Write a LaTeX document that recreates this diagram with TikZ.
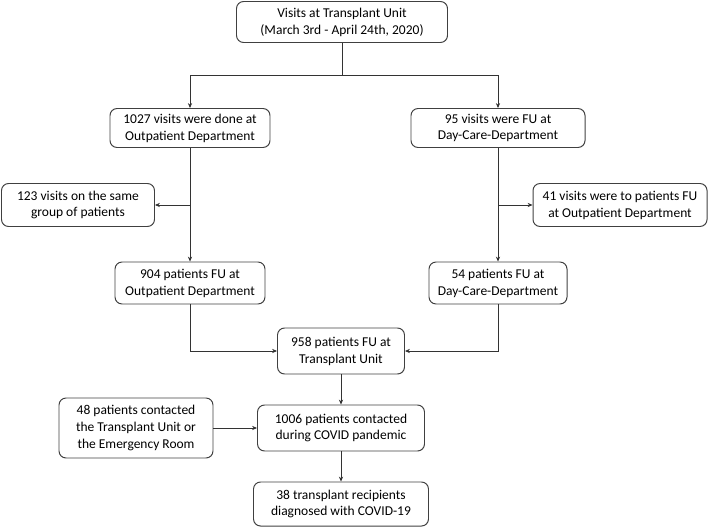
\documentclass[tikz,border=0pt]{standalone}
\usepackage{fontspec}
\setmainfont{Carlito}
\usetikzlibrary{arrows.meta}

\tikzset{
    stepbox/.style={draw=black!75, rounded corners=5pt, line width=0.7pt, align=center,
        inner sep=2pt, font=\fontsize{9.6}{12}\selectfont},
    flow/.style={draw=black!80, line width=0.5pt},
    flowarrow/.style={flow, -{Stealth[length=3.5pt,width=3pt]}}
}

\begin{document}
\begin{tikzpicture}[x=0.025cm, y=-0.025cm]

    % Fix the page to the size of the reference
    \useasboundingbox (0,0) rectangle (709,526);

    % Start of the flow
    \node[stepbox, minimum width=211*0.025cm, minimum height=41*0.025cm] (visits) at (342,22)
        {Visits at Transplant Unit\\(March 3rd - April 24th, 2020)};

    % The two departments
    \node[stepbox, minimum width=160*0.025cm, minimum height=39*0.025cm] (opd) at (190,128)
        {1027 visits were done at\\Outpatient Department};
    \node[stepbox, minimum width=174*0.025cm, minimum height=39*0.025cm] (dcd) at (498,128)
        {95 visits were FU at\\Day-Care-Department};

    % Visits taken out on each side
    \node[stepbox, minimum width=153*0.025cm, minimum height=43*0.025cm] (same) at (78,205)
        {123 visits on the same\\group of patients};
    \node[stepbox, minimum width=174*0.025cm, minimum height=43*0.025cm] (toopd) at (620,205)
        {41 visits were to patients FU\\at Outpatient Department};

    % Patients per department
    \node[stepbox, minimum width=150*0.025cm, minimum height=42*0.025cm] (opdpat) at (190,283)
        {904 patients FU at\\Outpatient Department};
    \node[stepbox, minimum width=138*0.025cm, minimum height=42*0.025cm] (dcdpat) at (498,283)
        {54 patients FU at\\Day-Care-Department};

    % Patients at the unit
    \node[stepbox, minimum width=127*0.025cm, minimum height=46*0.025cm] (unit) at (341,351)
        {958 patients FU at\\Transplant Unit};
    \node[stepbox, minimum width=167*0.025cm, minimum height=46*0.025cm] (covid) at (341,428)
        {1006 patients contacted\\during COVID pandemic};
    \node[stepbox, minimum width=154*0.025cm, minimum height=60*0.025cm] (er) at (136,428)
        {48 patients contacted\\the Transplant Unit or\\the Emergency Room};
    \node[stepbox, minimum width=175*0.025cm, minimum height=44*0.025cm] (diag) at (341,504)
        {38 transplant recipients\\diagnosed with COVID-19};

    % Split below the first box
    \coordinate (split) at (342,75);
    \draw[flow] (visits.south) -- (split);
    \draw[flowarrow] (split) -| (opd.north);
    \draw[flowarrow] (split) -| (dcd.north);

    % Down each department
    \draw[flowarrow] (opd.south) -- (opdpat.north);
    \draw[flowarrow] (dcd.south) -- (dcdpat.north);
    \draw[flowarrow] (opd.south |- same.east) -- (same.east);
    \draw[flowarrow] (dcd.south |- toopd.west) -- (toopd.west);

    % Join at the unit
    \draw[flowarrow] (opdpat.south) |- (unit.west);
    \draw[flowarrow] (dcdpat.south) |- (unit.east);

    % Down to the end
    \draw[flowarrow] (unit.south) -- (covid.north);
    \draw[flowarrow] (er.east) -- (covid.west);
    \draw[flowarrow] (covid.south) -- (diag.north);

\end{tikzpicture}
\end{document}
